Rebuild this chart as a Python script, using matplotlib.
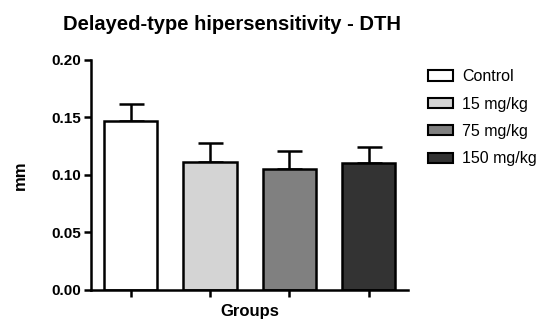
import numpy as np
import matplotlib.pyplot as plt
from matplotlib.patches import Patch

plt.rcParams['font.family'] = ['Liberation Sans', 'DejaVu Sans']

groups = ['Control', '15 mg/kg', '75 mg/kg', '150 mg/kg']
means = [0.147, 0.111, 0.105, 0.110]
errors = [0.0145, 0.017, 0.016, 0.014]
colors = ['#ffffff', '#d4d4d4', '#808080', '#333333']

fig = plt.figure(figsize=(5.45, 3.2), dpi=100)
ax = fig.add_axes([0.167, 0.094, 0.582, 0.719])

x = np.arange(len(groups))
ax.bar(x, means, width=0.67, color=colors, edgecolor='black', linewidth=1.8, zorder=2)
ax.errorbar(x, means, yerr=[np.zeros(len(errors)), errors], fmt='none',
            ecolor='black', elinewidth=1.8, capsize=9, capthick=1.8, zorder=1)

ax.set_xlim(-0.5, 3.5)
ax.set_ylim(0, 0.20)
ax.set_yticks([0, 0.05, 0.10, 0.15, 0.20])
ax.set_yticklabels(['0.00', '0.05', '0.10', '0.15', '0.20'], fontweight='bold', fontsize=11)
ax.set_xticks(x)
ax.set_xticklabels([])
ax.tick_params(axis='both', direction='out', length=5, width=1.8, pad=2)

for s in ['top', 'right']:
    ax.spines[s].set_visible(False)
for s in ['left', 'bottom']:
    ax.spines[s].set_linewidth(1.8)

ax.set_ylabel('mm', fontweight='bold', fontsize=12, labelpad=17)
ax.set_xlabel('Groups', fontweight='bold', fontsize=12, labelpad=3)
fig.text(0.425, 0.922, 'Delayed-type hipersensitivity - DTH', ha='center', va='center',
         fontweight='bold', fontsize=14.5)

handles = [Patch(facecolor=c, edgecolor='black', linewidth=1.5) for c in colors]
fig.legend(handles, groups, loc='upper left', bbox_to_anchor=(0.785, 0.784), frameon=False,
           fontsize=11.5, borderpad=0, borderaxespad=0, handlelength=1.55, handleheight=0.6,
           labelspacing=0.78, handletextpad=0.6)

fig.savefig('out.png', dpi=100)
